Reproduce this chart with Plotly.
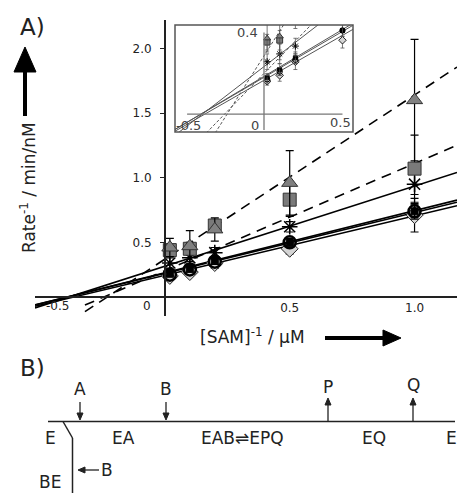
import plotly.graph_objects as go

W, H = 457, 493

# ---- data -------------------------------------------------------------
inv_sam = [0.02, 0.1, 0.2, 0.5, 1.0]          # [SAM]^-1 / uM^-1

rate_tri = [0.46, 0.47, 0.60, 0.96, 1.60]      # gray triangles
err_tri = [0.07, 0.12, 0.09, 0.25, 0.47]
rate_gsq = [0.44, 0.45, 0.63, 0.83, 1.07]      # gray squares
err_gsq = [0.04, 0.05, 0.05, 0.13, 0.26]
rate_ast = [0.34, 0.38, 0.42, 0.62, 0.95]      # asterisks
err_ast = [0.04, 0.05, 0.04, 0.04, 0.08]
rate_bsq = [0.26, 0.30, 0.36, 0.50, 0.74]      # black squares
err_bsq = [0.02, 0.03, 0.03, 0.03, 0.06]
rate_cir = [0.25, 0.29, 0.35, 0.50, 0.74]      # open circles
err_cir = [0.02, 0.02, 0.02, 0.03, 0.05]
rate_dia = [0.24, 0.27, 0.34, 0.45, 0.71]      # diamonds
err_dia = [0.02, 0.03, 0.04, 0.04, 0.13]

# linear fits (slope, intercept) for each series, same order as above
fit_slope = [1.27, 0.83, 0.62, 0.48, 0.47, 0.46]
fit_icpt = [0.37, 0.28, 0.315, 0.265, 0.26, 0.245]
fit_dashed = [True, True, False, False, False, False]

x_ticks = [0.5, 1.0]
x_tick_text = ["0.5", "1.0"]
y_ticks = [0.5, 1.0, 1.5, 2.0]
y_tick_text = ["0.5", "1.0", "1.5", "2.0"]

# ---- helpers: pixel -> paper -------------------------------------------
def fx(px):
    return px / W


def fy(py):
    return 1 - py / H


FONT = "DejaVu Sans"
INK = "#222222"

# main axes geometry
XR = [-0.52, 1.17]
YR = [-0.07, 2.22]
XDOM = [fx(35), 1.0]
YDOM = [fy(316), fy(20)]
y_axis_pos = XDOM[0] + (0 - XR[0]) / (XR[1] - XR[0]) * (XDOM[1] - XDOM[0])
x_line_val = 0.08
x_axis_pos = YDOM[0] + (x_line_val - YR[0]) / (YR[1] - YR[0]) * (YDOM[1] - YDOM[0])

# inset geometry
IXR = [-0.567, 0.567]
IYR = [-0.02, 0.528]
IXDOM = [fx(175), fx(353)]
IYDOM = [fy(132), fy(25)]

# drawing order: first entry ends up on top
series = [
    dict(y=rate_tri, e=err_tri, symbol="triangle-up", size=14, fill="#808080", lc="#333333", lw=1),
    dict(y=rate_gsq, e=err_gsq, symbol="square", size=13, fill="#7a7a7a", lc="#333333", lw=1),
    dict(y=rate_ast, e=err_ast, symbol="asterisk-open", size=13, fill="black", lc="black", lw=1.5),
    dict(y=rate_cir, e=err_cir, symbol="circle", size=12, fill="rgba(255,255,255,0)", lc="black", lw=2.5),
    dict(y=rate_bsq, e=err_bsq, symbol="square", size=7, fill="black", lc="black", lw=1),
    dict(y=rate_dia, e=err_dia, symbol="diamond", size=13, fill="#d4d4d4", lc="#222222", lw=1),
]

fig = go.Figure()

# fitted lines, main panel
for s, b, d in zip(fit_slope, fit_icpt, fit_dashed):
    x0 = -0.32 if d else XR[0]
    xs = [x0, XR[1]]
    fig.add_trace(go.Scatter(
        x=xs, y=[b + s * v for v in xs], mode="lines",
        line=dict(color="black", width=1.6, dash="10px,7px" if d else "solid"),
        hoverinfo="skip", showlegend=False))

# data points, main panel (drawn bottom-up)
for s in reversed(series):
    fig.add_trace(go.Scatter(
        x=inv_sam, y=s["y"], mode="markers",
        marker=dict(symbol=s["symbol"], size=s["size"], color=s["fill"],
                    line=dict(color=s["lc"], width=s["lw"])),
        error_y=dict(type="data", array=s["e"], color="black", thickness=1.2, width=4),
        showlegend=False))

# fitted lines, inset
for s, b, d in zip(fit_slope, fit_icpt, fit_dashed):
    xs = [IXR[0], IXR[1]]
    fig.add_trace(go.Scatter(
        x=xs, y=[b + s * v for v in xs], mode="lines", xaxis="x2", yaxis="y2",
        line=dict(color="#555555", width=1, dash="3px,2px" if d else "solid"),
        hoverinfo="skip", showlegend=False))

# data points, inset
for s in reversed(series):
    fig.add_trace(go.Scatter(
        x=inv_sam, y=s["y"], mode="markers", xaxis="x2", yaxis="y2",
        marker=dict(symbol=s["symbol"], size=max(4, s["size"] * 0.45), color=s["fill"],
                    line=dict(color=s["lc"], width=min(s["lw"], 1))),
        error_y=dict(type="data", array=s["e"], color="#555555", thickness=0.8, width=2),
        showlegend=False))

shapes = []
annotations = []

# inset frame and inset axes
shapes.append(dict(type="rect", xref="paper", yref="paper",
                   x0=IXDOM[0], x1=IXDOM[1], y0=IYDOM[0], y1=IYDOM[1],
                   line=dict(color="#555555", width=1.5)))
shapes.append(dict(type="line", xref="x2", yref="y2", x0=-0.49, x1=0.5,
                   y0=0.072, y1=0.072, line=dict(color="#777777", width=1.3)))
shapes.append(dict(type="line", xref="x2", yref="y2", x0=0, x1=0,
                   y0=-0.01, y1=0.49, line=dict(color="#777777", width=1.3)))
for txt, px, py in [("-0.5", 188, 125), ("0", 255, 125), ("0.5", 340, 123), ("0.4", 247, 33)]:
    annotations.append(dict(text=txt, x=fx(px), y=fy(py), xref="paper", yref="paper",
                            showarrow=False, xanchor="center", yanchor="middle",
                            font=dict(size=13, color="#444444", family=FONT)))

# extra x tick labels of main panel
for txt, px in [("-0.5", 57), ("0", 147)]:
    annotations.append(dict(text=txt, x=fx(px), y=fy(306), xref="paper", yref="paper",
                            showarrow=False, xanchor="center", yanchor="middle",
                            font=dict(size=12, color=INK, family=FONT)))

# panel letters and axis titles
annotations.append(dict(text="A)", x=fx(18), y=fy(27), xref="paper", yref="paper",
                        showarrow=False, xanchor="left", yanchor="middle",
                        font=dict(size=23, color=INK, family=FONT)))
annotations.append(dict(text="B)", x=fx(18), y=fy(368), xref="paper", yref="paper",
                        showarrow=False, xanchor="left", yanchor="middle",
                        font=dict(size=23, color=INK, family=FONT)))
annotations.append(dict(text="Rate<sup>-1</sup> / min/nM", x=fx(28), y=fy(188),
                        xref="paper", yref="paper", showarrow=False, textangle=-90,
                        xanchor="center", yanchor="middle",
                        font=dict(size=17, color=INK, family=FONT)))
annotations.append(dict(text="[SAM]<sup>-1</sup> / \u00b5M", x=fx(252), y=fy(336),
                        xref="paper", yref="paper", showarrow=False,
                        xanchor="center", yanchor="middle",
                        font=dict(size=17, color=INK, family=FONT)))


def ppath(points):
    return "M " + " L ".join(f"{fx(a):.5f},{fy(b):.5f}" for a, b in points) + " Z"


def pline(x0, y0, x1, y1, w=1.5, color=INK):
    shapes.append(dict(type="line", xref="paper", yref="paper",
                       x0=fx(x0), y0=fy(y0), x1=fx(x1), y1=fy(y1),
                       line=dict(color=color, width=w)))


def phead(points, color=INK):
    shapes.append(dict(type="path", xref="paper", yref="paper", path=ppath(points),
                       fillcolor=color, line=dict(color=color, width=1)))


# thick axis arrows
pline(25, 116, 25, 68, w=4, color="black")
phead([(25, 47), (14, 72), (36, 72)], color="black")
pline(325, 338, 388, 338, w=4, color="black")
phead([(401, 338), (383, 330), (383, 346)], color="black")

# ---- panel B: ordered bi-bi scheme with dead-end BE complex ------------
pline(48, 421.5, 455, 421.5)
pline(63, 421.5, 72.5, 438)
pline(72.5, 438, 72.5, 493)


def ptext(txt, px, py, size=17):
    annotations.append(dict(text=txt, x=fx(px), y=fy(py), xref="paper", yref="paper",
                            showarrow=False, xanchor="center", yanchor="middle",
                            font=dict(size=size, color=INK, family=FONT)))


def arrow_down(x, y_tail, y_head):
    pline(x, y_tail, x, y_head - 5, w=1.3)
    phead([(x, y_head), (x - 3, y_head - 7), (x + 3, y_head - 7)])


def arrow_up(x, y_tail, y_head):
    pline(x, y_tail, x, y_head + 5, w=1.3)
    phead([(x, y_head), (x - 3, y_head + 7), (x + 3, y_head + 7)])


def arrow_left(y, x_tail, x_head):
    pline(x_tail, y, x_head + 5, y, w=1.3)
    phead([(x_head, y), (x_head + 7, y - 3), (x_head + 7, y + 3)])


ptext("E", 50, 438)
ptext("EA", 123, 438)
ptext("EAB\u21ccEPQ", 243, 438)
ptext("EQ", 374, 438)
ptext("E", 451, 438)
ptext("BE", 50, 482)

ptext("A", 80, 389)
arrow_down(80, 402, 420)
ptext("B", 166, 389)
arrow_down(166, 402, 420)
ptext("P", 328, 387)
arrow_up(328, 421, 398)
ptext("Q", 413, 385)
arrow_up(413, 421, 398)
ptext("B", 107, 470)
arrow_left(470, 99, 78)

fig.update_layout(
    width=W, height=H,
    margin=dict(l=0, r=0, t=0, b=0),
    paper_bgcolor="white", plot_bgcolor="rgba(0,0,0,0)",
    font=dict(family=FONT, color=INK, size=12),
    showlegend=False,
    xaxis=dict(domain=XDOM, range=XR, anchor="free", position=x_axis_pos,
               showline=True, linecolor=INK, linewidth=1.5, showgrid=False,
               zeroline=False, tickvals=x_ticks, ticktext=x_tick_text, ticks="",
               tickfont=dict(size=12, color=INK)),
    yaxis=dict(domain=YDOM, range=YR, anchor="free", position=y_axis_pos,
               showline=True, linecolor=INK, linewidth=1.5, showgrid=False,
               zeroline=False, tickvals=y_ticks, ticktext=y_tick_text,
               ticks="outside", ticklen=4, tickcolor=INK, ticklabelstandoff=6,
               tickfont=dict(size=12, color=INK)),
    xaxis2=dict(domain=IXDOM, range=IXR, anchor="y2", visible=False),
    yaxis2=dict(domain=IYDOM, range=IYR, anchor="x2", visible=False),
    shapes=shapes,
    annotations=annotations,
)

fig.write_html("out.html")
